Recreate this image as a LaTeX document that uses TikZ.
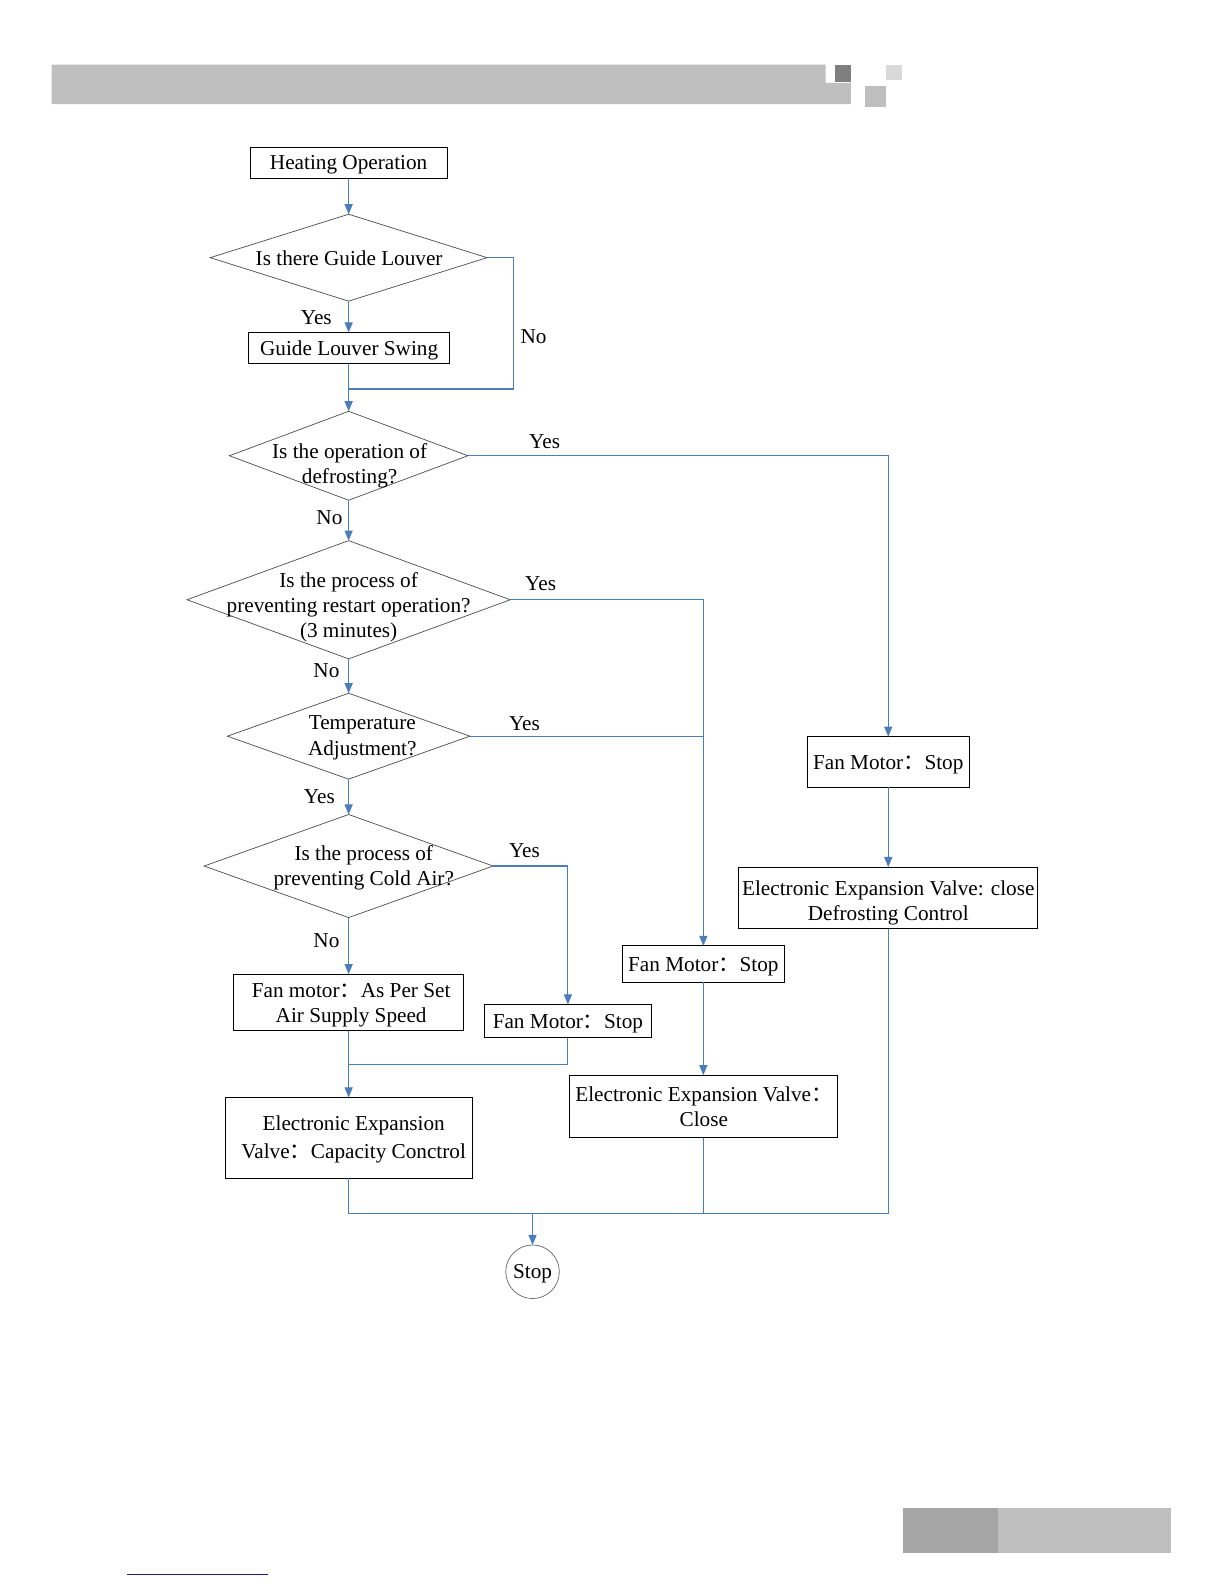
\documentclass[tikz,border=0pt]{standalone}
\usepackage{fontspec}
\setmainfont{Liberation Serif}
\newfontfamily\cjk{Noto Sans CJK SC}
\usetikzlibrary{shapes.geometric,arrows.meta}
\newcommand{\fcolon}{{\cjk ：}}
\definecolor{conn}{HTML}{4A7EBB}
\definecolor{barlight}{HTML}{BFBFBF}
\definecolor{bardark}{HTML}{7F7F7F}
\definecolor{barpale}{HTML}{D9D9D9}
\definecolor{barmid}{HTML}{A6A6A6}
\definecolor{navyline}{HTML}{1F1A7A}
\begin{document}
\begin{tikzpicture}[x=1pt,y=-1pt,
  every node/.style={font=\fontsize{21}{25}\selectfont, outer sep=0pt},
  box/.style={draw=black, line width=0.9pt, inner sep=0pt},
  dia/.style={diamond, draw=black!70, line width=0.7pt, inner sep=0pt},
  txt/.style={align=center, inner sep=0pt},
  lbl/.style={inner sep=0pt},
  conline/.style={draw=conn, line width=1.1pt},
  arr/.style={conline, -{Triangle[length=10pt,width=8pt]}},
]
\useasboundingbox (0,0) rectangle (1211.3,1567.5);
% header decoration
\fill[barlight] (51,64) -- (817,64) -- (817,82) -- (842,82) -- (842,103) -- (51,103) -- cycle;
\fill[bardark] (826,64) rectangle (842,81);
\fill[barpale] (877,64) rectangle (893,79);
\fill[barlight] (856,85) rectangle (877,106);
% footer decoration
\fill[barmid] (894,1492) rectangle (988,1537);
\fill[barlight] (988,1492) rectangle (1159,1537);
\draw[navyline, line width=1.6pt] (126,1558) -- (265,1558);

% boxes and decisions
\node[box, minimum width=195pt, minimum height=31pt] (ho) at (345,161.5) {};
\node[txt] (ho-t) at (345,163.5) {Heating Operation};
\node[dia, minimum width=274pt, minimum height=86pt] (d1) at (345,255) {};
\node[txt] (t1) at (345.5,255.5) {Is there Guide Louver};
\node[box, minimum width=199pt, minimum height=31pt] (gls) at (345,344.5) {};
\node[txt] (gls-t) at (345.5,346.5) {Guide Louver Swing};
\node[dia, minimum width=236pt, minimum height=88pt] (d2) at (345,451) {};
\node[txt] (t2) at (346,461) {Is the operation of\\defrosting?};
\node[dia, minimum width=320pt, minimum height=117pt] (d3) at (345,593.5) {};
\node[txt] (t3) at (345,601) {Is the process of\\preventing restart operation?\\(3 minutes)};
\node[dia, minimum width=240pt, minimum height=85pt] (d4) at (345,728.5) {};
\node[txt] (t4) at (358.5,730) {Temperature\\Adjustment?};
\node[dia, minimum width=286pt, minimum height=102pt] (d5) at (345,857) {};
\node[txt] (t5) at (360,858.5) {Is the process of\\preventing Cold Air?};
\node[box, minimum width=227pt, minimum height=56pt] (fa) at (345,992) {};
\node[txt] (fa-t) at (347.5,995) {Fan motor\fcolon As Per Set\\Air Supply Speed};
\node[box, minimum width=166pt, minimum height=33pt] (fl) at (562,1010.5) {};
\node[txt] (fl-t) at (562,1013.5) {Fan Motor\fcolon Stop};
\node[box, minimum width=245pt, minimum height=80pt] (eevc) at (345.5,1126) {};
\node[txt, font=\fontsize{21}{27}\selectfont] (eevc-t) at (350,1127.5) {Electronic Expansion\\Valve\fcolon Capacity Conctrol};
\node[box, minimum width=160pt, minimum height=36pt] (fm) at (696,954) {};
\node[txt] (fm-t) at (696,957) {Fan Motor\fcolon Stop};
\node[box, minimum width=265pt, minimum height=62pt] (eevv) at (696,1095) {};
\node[txt] (eevv-t) at (696.5,1095.5) {Electronic Expansion Valve\fcolon\\Close};
\node[box, minimum width=160pt, minimum height=50pt] (fr) at (879,754) {};
\node[txt] (fr-t) at (879,757) {Fan Motor\fcolon Stop};
\node[box, minimum width=296pt, minimum height=61pt] (eevd) at (879,888.5) {};
\node[txt] (eevd-t) at (879,893.5) {Electronic Expansion Valve: close\\Defrosting Control};
\node[circle, draw=black!60, line width=0.7pt, minimum size=53pt, inner sep=0pt] (stop) at (527,1258.5) {};
\node[txt] (stop-t) at (527,1260) {Stop};

% junction coordinates
\coordinate (n1) at (508,385);
\coordinate (j1) at (345,385);
\coordinate (j2) at (345,1053);
\coordinate (j3) at (527,1201);

% labels
\node[lbl] (y1) at (313,314) {Yes};
\node[lbl] (no1) at (528,333) {No};
\node[lbl] (y2) at (539,437) {Yes};
\node[lbl] (no2) at (326,512.5) {No};
\node[lbl] (y3) at (535,578) {Yes};
\node[lbl] (no3) at (323,664) {No};
\node[lbl] (y4) at (519,716.5) {Yes};
\node[lbl] (y5) at (316,788.5) {Yes};
\node[lbl] (y6) at (519,842) {Yes};
\node[lbl] (no5) at (323,930.5) {No};

% connectors
\draw[arr] (ho.south) -- (d1.north);
\draw[arr] (d1.south) -- (gls.north);
\draw[conline] (d1.east) -| (n1) -- (j1);
\draw[conline] (gls.south) -- (j1);
\draw[arr] (j1) -- (d2.north);
\draw[arr] (d2.east) -| (fr.north);
\draw[arr] (d2.south) -- (d3.north);
\draw[arr] (d3.east) -| (fm.north);
\draw[arr] (d3.south) -- (d4.north);
\draw[conline] (d4.east) -- (d4.east -| fm.north);
\draw[arr] (d4.south) -- (d5.north);
\draw[arr] (d5.east) -| (fl.north);
\draw[arr] (d5.south) -- (fa.north);
\draw[arr] (fa.south) -- (fa.south |- eevc.north);
\draw[conline] (fl.south) |- (j2);
\draw[arr] (fm.south) -- (eevv.north);
\draw[arr] (fr.south) -- (eevd.north);
\draw[conline] (fa.south |- eevc.south) -- (fa.south |- j3) -- (eevd.south |- j3) -- (eevd.south);
\draw[conline] (eevv.south) -- (eevv.south |- j3);
\draw[arr] (j3) -- (stop.north);
\end{tikzpicture}
\end{document}
